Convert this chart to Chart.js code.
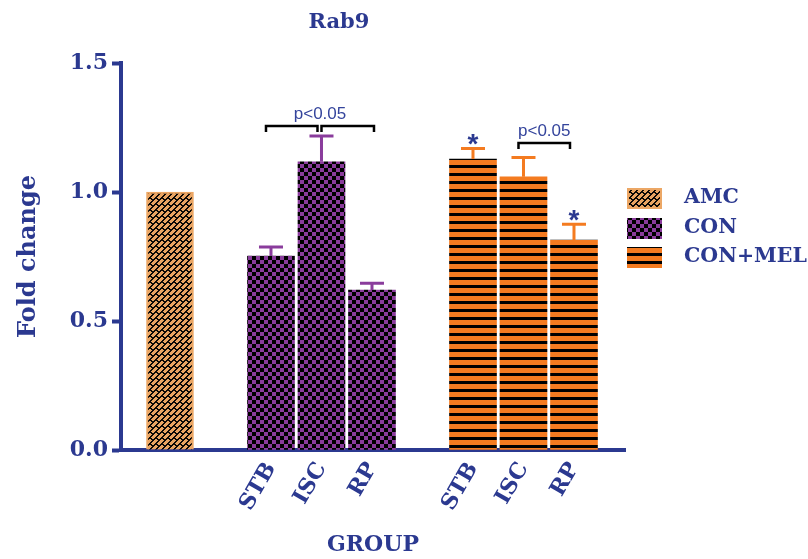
<!DOCTYPE html>
<html>
<head>
<meta charset="utf-8">
<script src="https://cdn.jsdelivr.net/npm/chart.js@4.4.1/dist/chart.umd.min.js"></script>
<style>
  html, body { margin: 0; padding: 0; background: #ffffff; }
  canvas { display: block; }
</style>
</head>
<body>
<canvas id="chart" width="808" height="559"></canvas>
<script>
// ---- data ----
const chartTitle = 'Rab9';
const seriesNames = ['AMC', 'CON', 'CON+MEL'];
const tickLabels = ['', '', 'STB', 'ISC', 'RP', '', 'STB', 'ISC', 'RP'];
const amcSlots = [0];
const conSlots = [2, 3, 4];
const melSlots = [6, 7, 8];
const amcValues = [1.0];
const conValues = [0.752, 1.117, 0.620];
const conErrors = [0.035, 0.100, 0.026];
const melValues = [1.128, 1.059, 0.814];
const melErrors = [0.041, 0.075, 0.061];
const yTicks = [0, 0.5, 1.0, 1.5];
// significance brackets: slot spans, bracket height (fold change), text
const brackets = [
  { spans: [[2, 3], [3, 4]], level: 1.256, label: 'p<0.05' },
  { spans: [[7, 8]], level: 1.19, label: 'p<0.05' }
];
// bars marked with an asterisk: [dataset index, bar index]
const starred = [[2, 0], [2, 2]];

// ---- styling ----
const ink = '#2B3990';
const serif = '"DejaVu Serif", "Liberation Serif", serif';
const purple = '#8A3C9C';
const orange = '#F47B20';

function tile(w, h, paint) {
  const c = document.createElement('canvas');
  c.width = w; c.height = h;
  const g = c.getContext('2d');
  paint(g, w, h);
  return g.createPattern(c, 'repeat');
}

// woven diagonal bricks on tan
const amcPattern = tile(24, 24, (g, w, h) => {
  const img = g.createImageData(w, h);
  for (let y = 0; y < h; y++) {
    for (let x = 0; x < w; x++) {
      const s = x + y;
      const strip = Math.floor(s / 6);
      const within = s % 6;
      const t = ((x - y + 6 * (strip % 2)) % 12 + 12) % 12;
      const light = within < 4 && t >= 2;
      const k = (y * w + x) * 4;
      if (light) { img.data[k] = 233; img.data[k + 1] = 164; img.data[k + 2] = 98; }
      else { img.data[k] = 12; img.data[k + 1] = 9; img.data[k + 2] = 6; }
      img.data[k + 3] = 255;
    }
  }
  g.putImageData(img, 0, 0);
});

// purple / black checkerboard
const conPattern = tile(8, 8, (g) => {
  g.fillStyle = '#000000'; g.fillRect(0, 0, 8, 8);
  g.fillStyle = purple; g.fillRect(0, 0, 4, 4); g.fillRect(4, 4, 4, 4);
});

// orange with black horizontal stripes
const melPattern = tile(8, 8, (g) => {
  g.fillStyle = orange; g.fillRect(0, 0, 8, 8);
  g.fillStyle = '#000000'; g.fillRect(0, 5, 8, 3);
});

const toPoints = (slots, vals) => slots.map((s, i) => ({ x: s, y: vals[i] }));

const decor = {
  id: 'decor',
  afterDatasetsDraw(chart) {
    const { ctx } = chart;
    const yScale = chart.scales.y;
    chart.data.datasets.forEach((ds, di) => {
      if (!ds.errors) return;
      const meta = chart.getDatasetMeta(di);
      ctx.save();
      ctx.strokeStyle = ds.errColor;
      ctx.lineWidth = 3;
      meta.data.forEach((bar, i) => {
        const top = yScale.getPixelForValue(ds.data[i].y + ds.errors[i]);
        ctx.beginPath();
        ctx.moveTo(bar.x, bar.y);
        ctx.lineTo(bar.x, top);
        ctx.moveTo(bar.x - 12, top);
        ctx.lineTo(bar.x + 12, top);
        ctx.stroke();
      });
      ctx.restore();
    });
  },
  afterDraw(chart) {
    const { ctx } = chart;
    const xs = chart.scales.x, ys = chart.scales.y;
    ctx.save();

    // title
    ctx.fillStyle = ink;
    ctx.font = 'bold 21px ' + serif;
    ctx.textAlign = 'center';
    ctx.textBaseline = 'middle';
    ctx.fillText(chartTitle, 339, 23);

    // significance brackets
    brackets.forEach(b => {
      const y = ys.getPixelForValue(b.level);
      ctx.strokeStyle = '#000000';
      ctx.lineWidth = 2.5;
      let minX = Infinity, maxX = -Infinity;
      b.spans.forEach(([a, c], k) => {
        const x1 = k === 0 ? xs.getPixelForValue(a) - 5 : xs.getPixelForValue(a);
        const x2 = k === 0 ? xs.getPixelForValue(c) - 4 : xs.getPixelForValue(c) + 2;
        minX = Math.min(minX, x1); maxX = Math.max(maxX, x2);
        ctx.beginPath();
        ctx.moveTo(x1, y + 6);
        ctx.lineTo(x1, y);
        ctx.lineTo(x2, y);
        ctx.lineTo(x2, y + 6);
        ctx.stroke();
      });
      ctx.fillStyle = '#34449C';
      ctx.font = '17px "Liberation Sans", Arial, sans-serif';
      ctx.textAlign = 'center';
      ctx.textBaseline = 'alphabetic';
      ctx.fillText(b.label, (minX + maxX) / 2, y - 7);
    });

    // asterisks above error bars
    ctx.fillStyle = ink;
    ctx.font = 'bold 28px "Liberation Sans", Arial, sans-serif';
    ctx.textAlign = 'center';
    ctx.textBaseline = 'alphabetic';
    const m = ctx.measureText('*');
    const mid = (m.actualBoundingBoxAscent - m.actualBoundingBoxDescent) / 2;
    starred.forEach(([di, i]) => {
      const ds = chart.data.datasets[di];
      const bar = chart.getDatasetMeta(di).data[i];
      const top = ys.getPixelForValue(ds.data[i].y + ds.errors[i]);
      ctx.fillText('*', bar.x, top - 9 + mid);
    });

    // legend
    const rows = [198, 228, 257];
    chart.data.datasets.forEach((ds, di) => {
      const cy = rows[di];
      ctx.fillStyle = ds.backgroundColor;
      ctx.fillRect(627, cy - 10, 35, 21);
      if (ds.borderWidth) {
        ctx.strokeStyle = ds.borderColor;
        ctx.lineWidth = 2;
        ctx.strokeRect(628, cy - 9, 33, 19);
      }
      ctx.fillStyle = ink;
      ctx.font = 'bold 20.5px ' + serif;
      ctx.textAlign = 'left';
      ctx.textBaseline = 'middle';
      ctx.fillText(ds.label, 684, cy);
    });
    ctx.restore();
  }
};

const axisFont = { family: serif, size: 22, weight: 'bold' };

new Chart(document.getElementById('chart'), {
  type: 'bar',
  data: {
    datasets: [
      { label: seriesNames[0], data: toPoints(amcSlots, amcValues), backgroundColor: amcPattern,
        borderColor: '#ECA765', borderWidth: 2, errors: null },
      { label: seriesNames[1], data: toPoints(conSlots, conValues), backgroundColor: conPattern,
        borderWidth: 0, errors: conErrors, errColor: purple },
      { label: seriesNames[2], data: toPoints(melSlots, melValues), backgroundColor: melPattern,
        borderWidth: 0, errors: melErrors, errColor: orange }
    ]
  },
  options: {
    responsive: false,
    animation: false,
    events: [],
    layout: { padding: { left: 0, right: 183, top: 63, bottom: 0 } },
    datasets: { bar: { barThickness: 47, grouped: false } },
    plugins: { legend: { display: false }, title: { display: false }, tooltip: { enabled: false } },
    scales: {
      x: {
        type: 'linear', min: -0.97, max: 9.01, offset: false,
        afterBuildTicks: s => { s.ticks = tickLabels.map((_, i) => ({ value: i })); },
        afterFit: s => { s.height = 109; },
        grid: { display: false, drawTicks: false },
        border: { display: true, color: ink, width: 4 },
        ticks: { autoSkip: false, minRotation: 60, maxRotation: 60, padding: 8, color: ink, font: axisFont,
          callback: v => tickLabels[v] ?? '' },
        title: { display: true, text: 'GROUP', color: ink, font: axisFont, padding: { top: 0, bottom: 1 } }
      },
      y: {
        min: 0, max: 1.5,
        afterBuildTicks: s => { s.ticks = yTicks.map(v => ({ value: v })); },
        afterFit: s => { s.width = 121; },
        grid: { drawOnChartArea: false, drawTicks: true, tickLength: 9, tickWidth: 4, tickColor: ink, color: ink },
        border: { display: true, color: ink, width: 4 },
        ticks: { padding: 4, color: ink, font: axisFont, callback: v => v.toFixed(1) },
        title: { display: true, text: 'Fold change', color: ink, font: { family: serif, size: 24, weight: 'bold' },
          padding: { top: 14, bottom: 0 } }
      }
    }
  },
  plugins: [decor]
});
</script>
</body>
</html>
